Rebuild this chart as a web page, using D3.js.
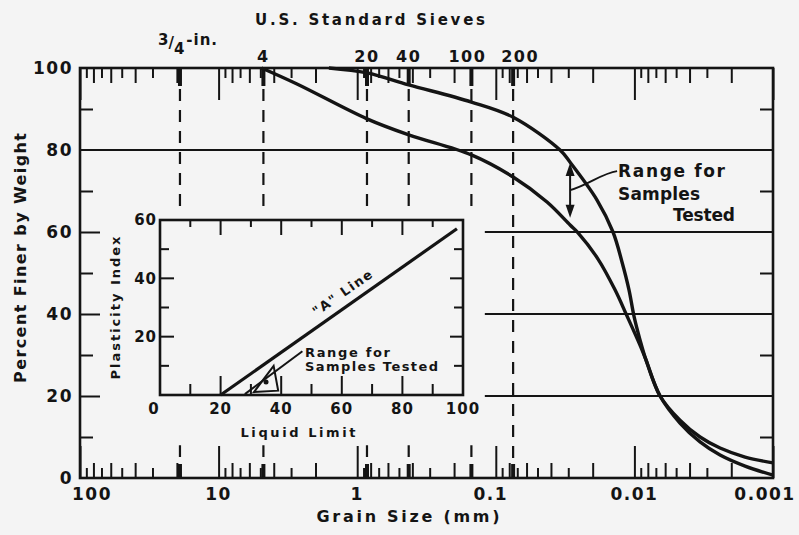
<!DOCTYPE html>
<html>
<head>
<meta charset="utf-8">
<script src="https://cdn.jsdelivr.net/npm/d3@7/dist/d3.min.js"></script>
<style>
  body { margin: 0; background: #f4f4f4; }
  svg { display: block; font-family: "DejaVu Sans", sans-serif; font-weight: bold; }
  text { fill: #141414; }
</style>
</head>
<body>
<svg id="chart" width="799" height="535"></svg>
<script>
// grain size envelope (mm vs percent finer)
var coarseSize = [4.9, 2.72, 0.85, 0.425, 0.15, 0.075, 0.0427, 0.0291, 0.0255, 0.0183, 0.0138, 0.0113, 0.00911, 0.00825, 0.00653, 0.00469, 0.00336, 0.00241, 0.00159, 0.001];
var coarsePct  = [100, 96.1, 87.6, 83.7, 78.8, 73.4, 67.3, 61.7, 59.8, 53.4, 45.9, 39.5, 32.4, 28.8, 20, 14.1, 10, 7.3, 5.1, 3.7];
var fineSize = [1.6, 0.85, 0.425, 0.15, 0.075, 0.0344, 0.0291, 0.0186, 0.01427, 0.01229, 0.01094, 0.01007, 0.00911, 0.00825, 0.00653, 0.00469, 0.00336, 0.00241, 0.00159, 0.001];
var finePct  = [100, 98.8, 95.9, 91.7, 88, 80, 77, 67.8, 60, 52.7, 45.9, 39.5, 33.7, 28.8, 20, 13.4, 8.8, 5.6, 2.9, 0.7];

// U.S. standard sieves
var sieveNames = ["3/4-in.", "4", "20", "40", "100", "200"];
var sieveSizes = [19, 4.75, 0.85, 0.425, 0.15, 0.075];

var sizeTicks = [100, 10, 1, 0.1, 0.01, 0.001];
var sizeTickLabels = ["100", "10", "1", "0.1", "0.01", "0.001"];
var pctTicks = [0, 20, 40, 60, 80, 100];
var pctGrid = [20, 40, 60, 80];

// arrow marking the range
var rangeArrowSize = 0.0291;
var rangeArrowPct = [76.8, 63.5];

// inset: plasticity chart
var llTicks = [0, 20, 40, 60, 80, 100];
var piTicks = [20, 40, 60];
var aLineLL = [20, 98];
var aLinePI = [0, 57];
var rangeLL = [31, 37.5, 39];
var rangePI = [1, 10, 1.5];
var rangeDot = [35, 4.5];
var rangeLeaderLL = [47, 28];
var rangeLeaderPI = [15, 0.3];

var ink = "#141414";
var svg = d3.select("#chart");

var x = d3.scaleLog().domain([100, 0.001]).range([80, 773]);
var y = d3.scaleLinear().domain([0, 100]).range([478, 68]);

function mantissa(d) {
  var e = Math.floor(Math.log10(d) + 1e-9);
  return Math.round(d / Math.pow(10, e));
}
function logTickLen(d) {
  var m = mantissa(d);
  if (m == 1) return 32;
  return m % 2 == 0 ? 15 : 10;
}

// gridlines
svg.append("g").selectAll("line")
  .data(pctGrid)
  .enter().append("line")
  .attr("x1", function(d) { return d == 80 ? x(100) : x(0.12); })
  .attr("x2", x(0.001))
  .attr("y1", function(d) { return y(d); })
  .attr("y2", function(d) { return y(d); })
  .attr("stroke", ink).attr("stroke-width", 2);

// sieve lines
var sieveG = svg.append("g").attr("stroke", ink).attr("stroke-width", 2.2);
sieveSizes.forEach(function(s, i) {
  var last = i == sieveSizes.length - 1;
  sieveG.append("line")
    .attr("x1", x(s)).attr("x2", x(s))
    .attr("y1", y(100)).attr("y2", last ? y(0) : y(66))
    .attr("stroke-dasharray", "12,9");
  if (!last) {
    sieveG.append("line")
      .attr("x1", x(s)).attr("x2", x(s))
      .attr("y1", y(0)).attr("y2", y(8))
      .attr("stroke-dasharray", "12,9");
  }
  sieveG.append("line")
    .attr("x1", x(s)).attr("x2", x(s))
    .attr("y1", y(100)).attr("y2", y(100) + 18)
    .attr("stroke-width", 4);
  sieveG.append("line")
    .attr("x1", x(s)).attr("x2", x(s))
    .attr("y1", y(0)).attr("y2", y(0) - 14)
    .attr("stroke-width", 4);
});

// minor log ticks top and bottom
var topAxis = svg.append("g")
  .attr("transform", "translate(0," + y(100) + ")")
  .call(d3.axisTop(x).ticks(10).tickSize(-10).tickFormat(""));
topAxis.select(".domain").remove();
topAxis.selectAll(".tick line").attr("y2", function(d) { return logTickLen(d); })
  .attr("stroke", ink).attr("stroke-width", 2);

var botAxis = svg.append("g")
  .attr("transform", "translate(0," + y(0) + ")")
  .call(d3.axisBottom(x).ticks(10).tickSize(-10).tickFormat(""));
botAxis.select(".domain").remove();
botAxis.selectAll(".tick line").attr("y2", function(d) { return -logTickLen(d); })
  .attr("stroke", ink).attr("stroke-width", 2);

// side ticks
var leftTicks = svg.append("g")
  .attr("transform", "translate(" + x(100) + ",0)")
  .call(d3.axisLeft(y).tickValues([10, 20, 30, 40, 50, 60, 70, 90]).tickSize(-10).tickFormat(""));
leftTicks.select(".domain").remove();
leftTicks.selectAll(".tick line").attr("x2", function(d) { return d % 20 == 0 ? 20 : 13; })
  .attr("stroke", ink).attr("stroke-width", 2);

var rightTicks = svg.append("g")
  .attr("transform", "translate(" + x(0.001) + ",0)")
  .call(d3.axisRight(y).tickValues([10, 30, 50, 70, 90]).tickSize(-13).tickFormat(""));
rightTicks.select(".domain").remove();
rightTicks.selectAll(".tick line").attr("stroke", ink).attr("stroke-width", 2);

// frame
svg.append("rect")
  .attr("x", x(100)).attr("y", y(100))
  .attr("width", x(0.001) - x(100)).attr("height", y(0) - y(100))
  .attr("fill", "none").attr("stroke", ink).attr("stroke-width", 2.6);

// y labels
var yLab = svg.append("g")
  .attr("transform", "translate(" + x(100) + ",0)")
  .call(d3.axisLeft(y).tickValues(pctTicks).tickSize(0).tickPadding(7));
yLab.select(".domain").remove();
yLab.selectAll("text").attr("font-size", 17).attr("font-family", "DejaVu Sans")
  .attr("font-weight", "bold").attr("fill", ink).attr("letter-spacing", 1.5);

// x labels
svg.append("g").selectAll("text")
  .data(sizeTicks)
  .enter().append("text")
  .attr("x", function(d) { return x(d); })
  .attr("dx", function(d, i) { return i == 0 ? 12 : (i == sizeTicks.length - 1 ? -8 : (i == 3 ? -5 : 0)); })
  .attr("y", 500)
  .attr("text-anchor", "middle")
  .attr("font-size", 17).attr("letter-spacing", 1.5)
  .text(function(d, i) { return sizeTickLabels[i]; });

svg.append("text")
  .attr("x", 408).attr("y", 522)
  .attr("text-anchor", "middle").attr("font-size", 16)
  .attr("textLength", 183).attr("lengthAdjust", "spacing")
  .text("Grain Size (mm)");

svg.append("text")
  .attr("transform", "translate(26,258) rotate(-90)")
  .attr("text-anchor", "middle").attr("font-size", 16)
  .attr("textLength", 250).attr("lengthAdjust", "spacing")
  .text("Percent Finer by Weight");

// top title and sieve labels
svg.append("text")
  .attr("x", 370).attr("y", 25)
  .attr("text-anchor", "middle").attr("font-size", 15)
  .attr("textLength", 230).attr("lengthAdjust", "spacing")
  .text("U.S. Standard Sieves");

var sieveDx = [0, 0, 0, 0, -4, 7];
sieveSizes.forEach(function(s, i) {
  if (i == 0) {
    var t = svg.append("text").attr("x", x(s) - 22).attr("y", 45).attr("font-size", 15);
    t.append("tspan").text("3");
    t.append("tspan").attr("dy", 3).text("/");
    t.append("tspan").attr("dy", 6).text("4");
    t.append("tspan").attr("dx", 2).attr("dy", -9).attr("letter-spacing", 1).text("-in.");
  } else {
    svg.append("text")
      .attr("x", x(s) + sieveDx[i]).attr("y", 62)
      .attr("text-anchor", "middle").attr("font-size", 16).attr("letter-spacing", 1.5)
      .text(sieveNames[i]);
  }
});

// curves
var line = d3.line()
  .x(function(d) { return x(d[0]); })
  .y(function(d) { return y(d[1]); })
  .curve(d3.curveCatmullRom.alpha(0.5));

var coarse = coarseSize.map(function(s, i) { return [s, coarsePct[i]]; });
var fine = fineSize.map(function(s, i) { return [s, finePct[i]]; });
svg.append("g").selectAll("path")
  .data([coarse, fine])
  .enter().append("path")
  .attr("d", line)
  .attr("fill", "none").attr("stroke", ink).attr("stroke-width", 3.4);

// range arrow
var ax = x(rangeArrowSize);
var ay1 = y(rangeArrowPct[0]), ay2 = y(rangeArrowPct[1]);
svg.append("line").attr("x1", ax).attr("x2", ax)
  .attr("y1", ay1 + 10).attr("y2", ay2 - 10)
  .attr("stroke", ink).attr("stroke-width", 2);
svg.append("path")
  .attr("d", "M" + ax + "," + ay1 + "l-4.5,13l9,0z")
  .attr("fill", ink);
svg.append("path")
  .attr("d", "M" + ax + "," + ay2 + "l-4.5,-13l9,0z")
  .attr("fill", ink);
svg.append("path")
  .attr("d", "M" + ax + "," + (ay1 + 27) + "C" + (ax + 18) + "," + (ay1 + 22) + " " + (ax + 32) + "," + (ay1 + 10) + " " + (ax + 47) + "," + (ay1 + 8))
  .attr("fill", "none").attr("stroke", ink).attr("stroke-width", 2);

svg.append("text").attr("x", 618).attr("y", 177).attr("font-size", 17)
  .attr("textLength", 107).attr("lengthAdjust", "spacing").text("Range for");
svg.append("text").attr("x", 618).attr("y", 200).attr("font-size", 17)
  .attr("textLength", 82).attr("lengthAdjust", "spacing").text("Samples");
svg.append("text").attr("x", 673).attr("y", 221).attr("font-size", 17)
  .attr("textLength", 62).attr("lengthAdjust", "spacing").text("Tested");

// ---- inset plasticity chart ----
var ix = d3.scaleLinear().domain([0, 100]).range([160, 463]);
var iy = d3.scaleLinear().domain([0, 60]).range([395, 220]);
var inset = svg.append("g");

inset.append("rect")
  .attr("x", ix(0)).attr("y", iy(60))
  .attr("width", ix(100) - ix(0)).attr("height", iy(0) - iy(60))
  .attr("fill", "#f4f4f4").attr("stroke", ink).attr("stroke-width", 2.6);

var llMinor = d3.range(10, 100, 10);
var piMinor = d3.range(10, 60, 10);
inset.append("g").selectAll("line").data(llMinor).enter().append("line")
  .attr("x1", ix).attr("x2", ix)
  .attr("y1", iy(60)).attr("y2", function(d) { return iy(60) + (d % 20 == 0 ? 15 : 7); })
  .attr("stroke", ink).attr("stroke-width", 2);
inset.append("g").selectAll("line").data(llMinor).enter().append("line")
  .attr("x1", ix).attr("x2", ix)
  .attr("y1", iy(0)).attr("y2", function(d) { return iy(0) - (d % 20 == 0 ? 19 : 11); })
  .attr("stroke", ink).attr("stroke-width", 2);
inset.append("g").selectAll("line").data(piMinor).enter().append("line")
  .attr("y1", iy).attr("y2", iy)
  .attr("x1", ix(0)).attr("x2", function(d) { return ix(0) + (d % 20 == 0 ? 14 : 9); })
  .attr("stroke", ink).attr("stroke-width", 2);
inset.append("g").selectAll("line").data(piMinor).enter().append("line")
  .attr("y1", iy).attr("y2", iy)
  .attr("x1", ix(100)).attr("x2", function(d) { return ix(100) - (d % 20 == 0 ? 13 : 9); })
  .attr("stroke", ink).attr("stroke-width", 2);

inset.append("g").selectAll("text").data(llTicks).enter().append("text")
  .attr("x", ix).attr("dx", function(d) { return d == 0 ? -6 : 0; })
  .attr("y", 414).attr("text-anchor", "middle")
  .attr("font-size", 15).attr("letter-spacing", 1)
  .text(function(d) { return d; });
inset.append("g").selectAll("text").data(piTicks).enter().append("text")
  .attr("x", ix(0) - 3).attr("y", iy).attr("dy", "0.36em")
  .attr("text-anchor", "end")
  .attr("font-size", 15).attr("letter-spacing", 1)
  .text(function(d) { return d; });

inset.append("text").attr("x", 298).attr("y", 437).attr("text-anchor", "middle")
  .attr("font-size", 13).attr("textLength", 115).attr("lengthAdjust", "spacing")
  .text("Liquid Limit");
inset.append("text").attr("transform", "translate(120,308) rotate(-90)")
  .attr("text-anchor", "middle").attr("font-size", 13)
  .attr("textLength", 143).attr("lengthAdjust", "spacing")
  .text("Plasticity Index");

// A line
var aPts = aLineLL.map(function(v, i) { return [ix(v), iy(aLinePI[i])]; });
inset.append("line")
  .attr("x1", aPts[0][0]).attr("y1", aPts[0][1])
  .attr("x2", aPts[1][0]).attr("y2", aPts[1][1])
  .attr("stroke", ink).attr("stroke-width", 3.2);
var ang = Math.atan2(aPts[1][1] - aPts[0][1], aPts[1][0] - aPts[0][0]);
var tx = aPts[0][0] + 0.55 * (aPts[1][0] - aPts[0][0]) + 9 * Math.sin(ang);
var ty = aPts[0][1] + 0.55 * (aPts[1][1] - aPts[0][1]) - 9 * Math.cos(ang);
inset.append("text")
  .attr("transform", "translate(" + tx + "," + ty + ") rotate(" + (ang * 180 / Math.PI) + ")")
  .attr("text-anchor", "middle").attr("font-size", 13).attr("letter-spacing", 1.5)
  .text("\"A\" Line");

// range of samples
inset.append("path")
  .attr("d", d3.line()(rangeLL.map(function(v, i) { return [ix(v), iy(rangePI[i])]; })) + "Z")
  .attr("fill", "none").attr("stroke", ink).attr("stroke-width", 2);
inset.append("circle").attr("cx", ix(rangeDot[0])).attr("cy", iy(rangeDot[1])).attr("r", 2.5).attr("fill", ink);
inset.append("line")
  .attr("x1", ix(rangeLeaderLL[0])).attr("y1", iy(rangeLeaderPI[0]))
  .attr("x2", ix(rangeLeaderLL[1])).attr("y2", iy(rangeLeaderPI[1]))
  .attr("stroke", ink).attr("stroke-width", 2);
inset.append("text").attr("x", 305).attr("y", 357).attr("font-size", 13)
  .attr("textLength", 85).attr("lengthAdjust", "spacing").text("Range for");
inset.append("text").attr("x", 305).attr("y", 371).attr("font-size", 13)
  .attr("textLength", 133).attr("lengthAdjust", "spacing").text("Samples Tested");
</script>
</body>
</html>
